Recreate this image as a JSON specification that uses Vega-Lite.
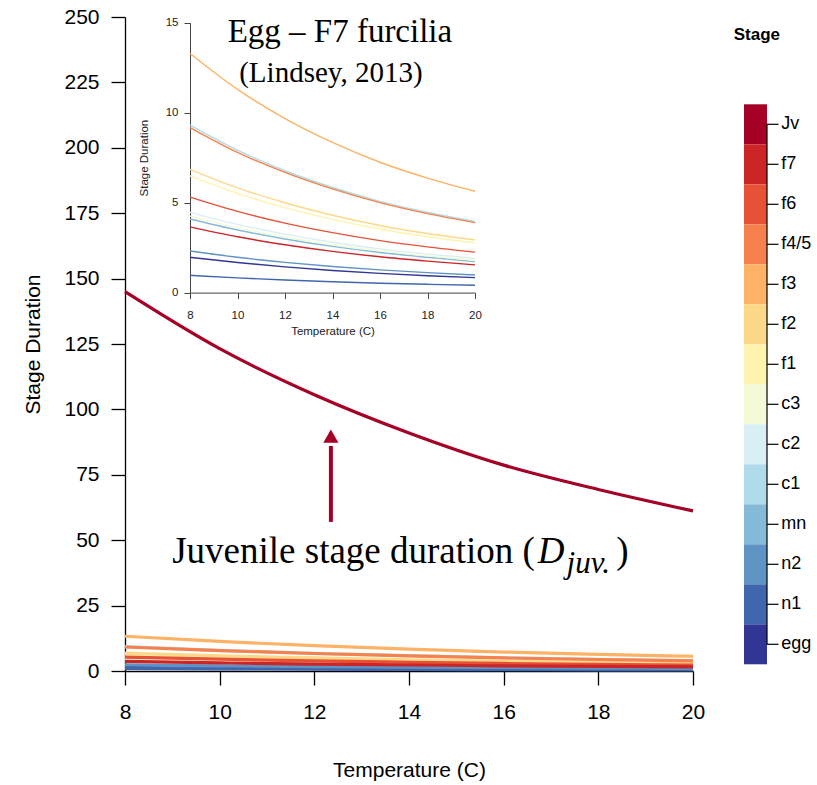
{
  "$schema": "https://vega.github.io/schema/vega-lite/v6.json",
  "width": 568,
  "height": 654,
  "autosize": {"type": "none"},
  "padding": {"left": 125, "top": 17, "right": 124, "bottom": 114},
  "background": "white",
  "config": {
    "view": {"stroke": null},
    "axis": {"grid": false, "labelFont": "Liberation Sans", "titleFont": "Liberation Sans", "labelFlush": false},
    "text": {"font": "Liberation Sans"}
  },
  "datasets": {
    "curves": [
      {"stage": "egg", "T": 8, "D": 1.96}, {"stage": "egg", "T": 10, "D": 1.67}, {"stage": "egg", "T": 12, "D": 1.43}, {"stage": "egg", "T": 14, "D": 1.23}, {"stage": "egg", "T": 16, "D": 1.07}, {"stage": "egg", "T": 18, "D": 0.94}, {"stage": "egg", "T": 20, "D": 0.83},
      {"stage": "n1", "T": 8, "D": 0.96}, {"stage": "n1", "T": 10, "D": 0.82}, {"stage": "n1", "T": 12, "D": 0.70}, {"stage": "n1", "T": 14, "D": 0.60}, {"stage": "n1", "T": 16, "D": 0.52}, {"stage": "n1", "T": 18, "D": 0.46}, {"stage": "n1", "T": 20, "D": 0.41},
      {"stage": "n2", "T": 8, "D": 2.31}, {"stage": "n2", "T": 10, "D": 1.96}, {"stage": "n2", "T": 12, "D": 1.68}, {"stage": "n2", "T": 14, "D": 1.45}, {"stage": "n2", "T": 16, "D": 1.26}, {"stage": "n2", "T": 18, "D": 1.11}, {"stage": "n2", "T": 20, "D": 0.98},
      {"stage": "mn", "T": 8, "D": 4.09}, {"stage": "mn", "T": 10, "D": 3.48}, {"stage": "mn", "T": 12, "D": 2.98}, {"stage": "mn", "T": 14, "D": 2.57}, {"stage": "mn", "T": 16, "D": 2.23}, {"stage": "mn", "T": 18, "D": 1.96}, {"stage": "mn", "T": 20, "D": 1.72},
      {"stage": "c1", "T": 8, "D": 9.30}, {"stage": "c1", "T": 10, "D": 7.91}, {"stage": "c1", "T": 12, "D": 6.77}, {"stage": "c1", "T": 14, "D": 5.84}, {"stage": "c1", "T": 16, "D": 5.07}, {"stage": "c1", "T": 18, "D": 4.45}, {"stage": "c1", "T": 20, "D": 3.96},
      {"stage": "c2", "T": 8, "D": 4.46}, {"stage": "c2", "T": 10, "D": 3.79}, {"stage": "c2", "T": 12, "D": 3.25}, {"stage": "c2", "T": 14, "D": 2.80}, {"stage": "c2", "T": 16, "D": 2.43}, {"stage": "c2", "T": 18, "D": 2.14}, {"stage": "c2", "T": 20, "D": 1.90},
      {"stage": "c3", "T": 8, "D": 4.25}, {"stage": "c3", "T": 10, "D": 3.61}, {"stage": "c3", "T": 12, "D": 3.09}, {"stage": "c3", "T": 14, "D": 2.67}, {"stage": "c3", "T": 16, "D": 2.32}, {"stage": "c3", "T": 18, "D": 2.04}, {"stage": "c3", "T": 20, "D": 1.80},
      {"stage": "f1", "T": 8, "D": 6.48}, {"stage": "f1", "T": 10, "D": 5.51}, {"stage": "f1", "T": 12, "D": 4.72}, {"stage": "f1", "T": 14, "D": 4.07}, {"stage": "f1", "T": 16, "D": 3.53}, {"stage": "f1", "T": 18, "D": 3.10}, {"stage": "f1", "T": 20, "D": 2.76},
      {"stage": "f2", "T": 8, "D": 6.85}, {"stage": "f2", "T": 10, "D": 5.82}, {"stage": "f2", "T": 12, "D": 4.99}, {"stage": "f2", "T": 14, "D": 4.30}, {"stage": "f2", "T": 16, "D": 3.73}, {"stage": "f2", "T": 18, "D": 3.28}, {"stage": "f2", "T": 20, "D": 2.92},
      {"stage": "f3", "T": 8, "D": 13.28}, {"stage": "f3", "T": 10, "D": 11.29}, {"stage": "f3", "T": 12, "D": 9.67}, {"stage": "f3", "T": 14, "D": 8.34}, {"stage": "f3", "T": 16, "D": 7.24}, {"stage": "f3", "T": 18, "D": 6.36}, {"stage": "f3", "T": 20, "D": 5.63},
      {"stage": "f4/5", "T": 8, "D": 9.17}, {"stage": "f4/5", "T": 10, "D": 7.79}, {"stage": "f4/5", "T": 12, "D": 6.68}, {"stage": "f4/5", "T": 14, "D": 5.76}, {"stage": "f4/5", "T": 16, "D": 5.00}, {"stage": "f4/5", "T": 18, "D": 4.39}, {"stage": "f4/5", "T": 20, "D": 3.89},
      {"stage": "f6", "T": 8, "D": 5.30}, {"stage": "f6", "T": 10, "D": 4.51}, {"stage": "f6", "T": 12, "D": 3.86}, {"stage": "f6", "T": 14, "D": 3.33}, {"stage": "f6", "T": 16, "D": 2.89}, {"stage": "f6", "T": 18, "D": 2.54}, {"stage": "f6", "T": 20, "D": 2.25},
      {"stage": "f7", "T": 8, "D": 3.65}, {"stage": "f7", "T": 10, "D": 3.10}, {"stage": "f7", "T": 12, "D": 2.66}, {"stage": "f7", "T": 14, "D": 2.29}, {"stage": "f7", "T": 16, "D": 1.99}, {"stage": "f7", "T": 18, "D": 1.75}, {"stage": "f7", "T": 20, "D": 1.54},
      {"stage": "Jv", "T": 8, "D": 145.0}, {"stage": "Jv", "T": 10, "D": 123.2}, {"stage": "Jv", "T": 12, "D": 105.6}, {"stage": "Jv", "T": 14, "D": 91.0}, {"stage": "Jv", "T": 16, "D": 78.7}, {"stage": "Jv", "T": 18, "D": 69.4}, {"stage": "Jv", "T": 20, "D": 61.2}
    ],
    "stages": [
      {"stage": "Jv"}, {"stage": "f7"}, {"stage": "f6"}, {"stage": "f4/5"}, {"stage": "f3"}, {"stage": "f2"}, {"stage": "f1"},
      {"stage": "c3"}, {"stage": "c2"}, {"stage": "c1"}, {"stage": "mn"}, {"stage": "n2"}, {"stage": "n1"}, {"stage": "egg"}
    ]
  },
  "layer": [
    {
      "layer": [
        {
          "data": {"name": "curves"},
          "mark": {"type": "line", "strokeWidth": 3.2, "interpolate": "monotone"},
          "encoding": {
            "x": {
              "field": "T", "type": "quantitative",
              "scale": {"domain": [8, 20], "nice": false, "zero": false},
              "axis": {
                "values": [8, 10, 12, 14, 16, 18, 20], "title": "Temperature (C)",
                "tickSize": 14, "tickWidth": 1.3, "domainWidth": 1.3,
                "domainColor": "black", "tickColor": "black", "labelColor": "black", "titleColor": "black",
                "labelFontSize": 21, "labelPadding": 16, "titleFontSize": 21, "titleFontWeight": "normal", "titlePadding": 37
              }
            },
            "y": {
              "field": "D", "type": "quantitative",
              "scale": {"domain": [0, 250], "nice": false},
              "axis": {
                "values": [0, 25, 50, 75, 100, 125, 150, 175, 200, 225, 250], "title": "Stage Duration",
                "tickSize": 14, "tickWidth": 1.3, "domainWidth": 1.3,
                "domainColor": "black", "tickColor": "black", "labelColor": "black", "titleColor": "black",
                "labelFontSize": 21, "labelPadding": 12, "titleFontSize": 21, "titleFontWeight": "normal", "titlePadding": 20
              }
            },
            "color": {
              "field": "stage", "type": "nominal",
              "scale": {
                "domain": ["egg", "n1", "n2", "mn", "c1", "c2", "c3", "f1", "f2", "f3", "f4/5", "f6", "f7", "Jv"],
                "range": ["#313695", "#4066ad", "#5e93c4", "#85bbd8", "#afdbea", "#d8eff6", "#f3fad5", "#fff3ad", "#fed889", "#fdb265", "#f7814c", "#e75136", "#cc2527", "#a50026"]
              },
              "legend": null
            }
          }
        },
        {
          "data": {"values": [{}]},
          "mark": {"type": "rule", "color": "#a50026", "strokeWidth": 4},
          "encoding": {
            "x": {"datum": 12.35, "type": "quantitative"},
            "y": {"datum": 57, "type": "quantitative"},
            "y2": {"datum": 86}
          }
        },
        {
          "data": {"values": [{}]},
          "mark": {"type": "point", "shape": "triangle-up", "filled": true, "color": "#a50026", "size": 230, "opacity": 1},
          "encoding": {
            "x": {"datum": 12.35, "type": "quantitative"},
            "y": {"datum": 89.8, "type": "quantitative"}
          }
        },
        {
          "data": {"values": [{}]},
          "mark": {"type": "text", "font": "Liberation Serif", "fontSize": 33, "align": "center", "baseline": "alphabetic", "color": "black"},
          "encoding": {
            "x": {"datum": 12.54, "type": "quantitative"},
            "y": {"datum": 240.4, "type": "quantitative"},
            "text": {"value": "Egg – F7 furcilia"}
          }
        },
        {
          "data": {"values": [{}]},
          "mark": {"type": "text", "font": "Liberation Serif", "fontSize": 29, "align": "center", "baseline": "alphabetic", "color": "black"},
          "encoding": {
            "x": {"datum": 12.35, "type": "quantitative"},
            "y": {"datum": 225.2, "type": "quantitative"},
            "text": {"value": "(Lindsey, 2013)"}
          }
        },
        {
          "data": {"values": [{}]},
          "mark": {"type": "text", "font": "Liberation Serif", "fontSize": 37, "align": "right", "baseline": "alphabetic", "color": "black"},
          "encoding": {
            "x": {"datum": 16.66, "type": "quantitative"},
            "y": {"datum": 41.3, "type": "quantitative"},
            "text": {"value": "Juvenile stage duration ("}
          }
        },
        {
          "data": {"values": [{}]},
          "mark": {"type": "text", "font": "Liberation Serif", "fontSize": 37, "fontStyle": "italic", "align": "left", "baseline": "alphabetic", "color": "black"},
          "encoding": {
            "x": {"datum": 16.72, "type": "quantitative"},
            "y": {"datum": 41.3, "type": "quantitative"},
            "text": {"value": "D"}
          }
        },
        {
          "data": {"values": [{}]},
          "mark": {"type": "text", "font": "Liberation Serif", "fontSize": 31, "fontStyle": "italic", "align": "left", "baseline": "alphabetic", "color": "black"},
          "encoding": {
            "x": {"datum": 17.33, "type": "quantitative"},
            "y": {"datum": 37.6, "type": "quantitative"},
            "text": {"value": "juv."}
          }
        },
        {
          "data": {"values": [{}]},
          "mark": {"type": "text", "font": "Liberation Serif", "fontSize": 37, "align": "left", "baseline": "alphabetic", "color": "black"},
          "encoding": {
            "x": {"datum": 18.38, "type": "quantitative"},
            "y": {"datum": 41.3, "type": "quantitative"},
            "text": {"value": ")"}
          }
        },
        {
          "data": {"values": [{}]},
          "mark": {"type": "text", "fontSize": 17, "fontWeight": "bold", "align": "center", "baseline": "middle", "color": "black"},
          "encoding": {
            "x": {"datum": 21.35, "type": "quantitative"},
            "y": {"datum": 243.1, "type": "quantitative"},
            "text": {"value": "Stage"}
          }
        }
      ]
    },
    {
      "data": {"name": "curves"},
      "transform": [{"filter": "datum.stage !== 'Jv'"}],
      "mark": {"type": "line", "strokeWidth": 1.4, "interpolate": "monotone"},
      "encoding": {
        "x": {
          "field": "T", "type": "quantitative",
          "scale": {"domain": [8, 20], "range": [65, 350], "nice": false, "zero": false},
          "axis": {
            "orient": "bottom", "offset": -378.4,
            "values": [8, 10, 12, 14, 16, 18, 20], "title": "Temperature (C)",
            "tickSize": 6, "domainColor": "#444", "tickColor": "#444", "labelColor": "#222", "titleColor": "#222",
            "labelFontSize": 11.5, "labelPadding": 11, "titleFontSize": 11.5, "titleFontWeight": "normal", "titlePadding": 4
          }
        },
        "y": {
          "field": "D", "type": "quantitative",
          "scale": {"domain": [0, 15], "range": [275.6, 5.6], "nice": false},
          "axis": {
            "orient": "left", "offset": -65,
            "values": [0, 5, 10, 15], "title": "Stage Duration",
            "tickSize": 6, "domainColor": "#444", "tickColor": "#444", "labelColor": "#222", "titleColor": "#222",
            "labelFontSize": 11.5, "labelPadding": 6, "titleFontSize": 11.5, "titleFontWeight": "normal", "titlePadding": 16
          }
        },
        "color": {"field": "stage", "type": "nominal", "legend": null}
      }
    },
    {
      "data": {"name": "stages"},
      "layer": [
        {
          "mark": {"type": "rect"},
          "encoding": {
            "x": {"datum": 0, "type": "quantitative", "scale": {"domain": [0, 1], "range": [619, 642]}, "axis": null},
            "x2": {"datum": 1},
            "y": {
              "field": "stage", "type": "nominal",
              "scale": {
                "type": "band", "paddingInner": 0, "paddingOuter": 0, "range": [87.3, 647.3],
                "domain": ["Jv", "f7", "f6", "f4/5", "f3", "f2", "f1", "c3", "c2", "c1", "mn", "n2", "n1", "egg"]
              },
              "axis": null
            },
            "color": {"field": "stage", "type": "nominal", "legend": null}
          }
        },
        {
          "mark": {"type": "rule", "color": "black", "strokeWidth": 1.2},
          "encoding": {
            "x": {"datum": 1, "type": "quantitative"},
            "x2": {"datum": 1.5},
            "y": {"field": "stage", "type": "nominal"}
          }
        },
        {
          "data": {"values": [{}]},
          "mark": {"type": "rule", "color": "black", "strokeWidth": 1.2},
          "encoding": {
            "x": {"datum": 1, "type": "quantitative"},
            "y": {"datum": "Jv", "type": "nominal"},
            "y2": {"datum": "egg"}
          }
        },
        {
          "mark": {"type": "text", "align": "left", "baseline": "middle", "fontSize": 18, "color": "black"},
          "encoding": {
            "x": {"datum": 1.62, "type": "quantitative"},
            "y": {"field": "stage", "type": "nominal"},
            "text": {"field": "stage"}
          }
        }
      ]
    }
  ],
  "resolve": {"scale": {"x": "independent", "y": "independent"}}
}
